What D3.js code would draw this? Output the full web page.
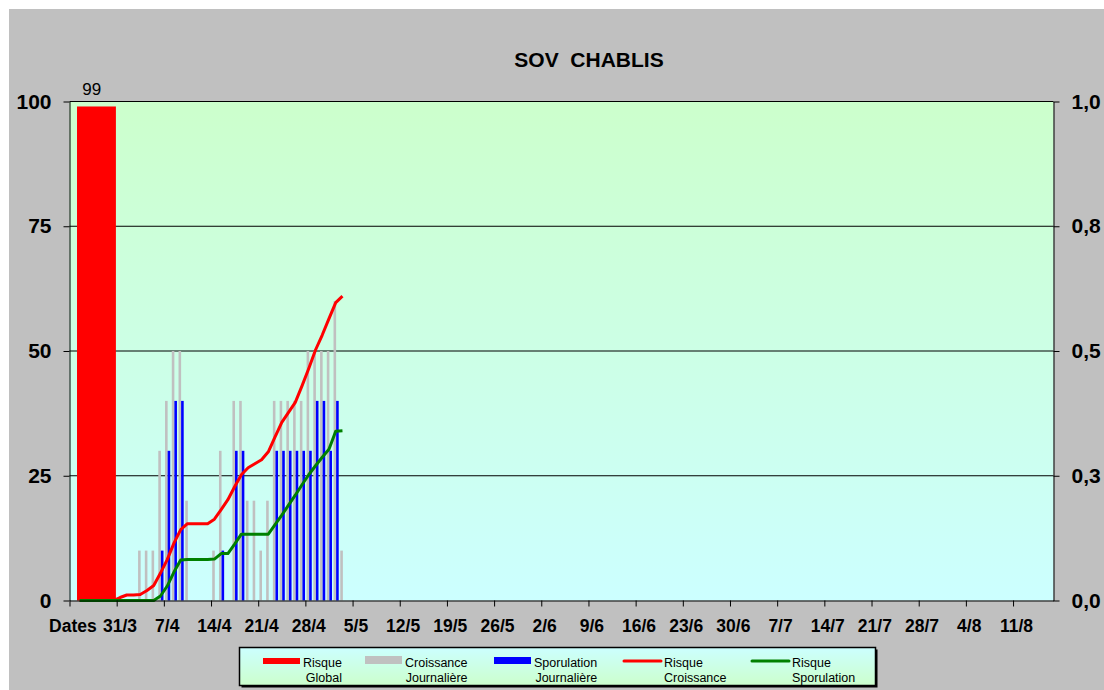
<!DOCTYPE html>
<html>
<head>
<meta charset="utf-8">
<script src="https://d3js.org/d3.v7.min.js"></script>
<style>
  body { margin: 0; background: #ffffff; }
  svg { display: block; font-family: "Liberation Sans", Arial, sans-serif; }
</style>
</head>
<body>
<script>
  // category 0 is the "Dates" header, then one category per day from 25/3
  var nbCategories = 146;
  var tickEvery = 7;
  var tickLabels = ["Dates", "31/3", "7/4", "14/4", "21/4", "28/4", "5/5", "12/5", "19/5", "26/5",
                    "2/6", "9/6", "16/6", "23/6", "30/6", "7/7", "14/7", "21/7", "28/7", "4/8", "11/8"];
  var leftTicks = [0, 25, 50, 75, 100];
  var rightTicks = [0, 0.25, 0.5, 0.75, 1];

  var risqueGlobal = 99;

  // daily series, starting at category 1 (25/3) up to category 40 (3/5)
  var firstCategory = 1;
  var croissance = [0, 0, 0, 0, 0, 0, 0, 0, 0, 10, 10, 10, 30, 40, 50, 50, 20, 0, 0, 0,
                    10, 30, 0, 40, 40, 20, 20, 10, 20, 40, 40, 40, 40, 40, 50, 50, 50, 50, 60, 10];
  var sporulation = [0, 0, 0, 0, 0, 0, 0, 0, 0, 0, 0, 0, 10, 30, 40, 40, 0, 0, 0, 0,
                     0, 10, 0, 30, 30, 0, 0, 0, 0, 30, 30, 30, 30, 30, 30, 40, 40, 30, 40, 0];
  var risqueCroissance = [0, 0, 0, 0, 0, 0, 0.006, 0.011, 0.011, 0.012, 0.02, 0.03, 0.055, 0.082, 0.115, 0.142, 0.154, 0.154, 0.154, 0.154,
                          0.163, 0.182, 0.202, 0.228, 0.252, 0.266, 0.274, 0.282, 0.298, 0.328, 0.357, 0.377, 0.397, 0.43, 0.465, 0.502, 0.532, 0.565, 0.597, 0.61];
  var risqueSporulation = [0, 0, 0, 0, 0, 0, 0, 0, 0, 0, 0, 0, 0.009, 0.029, 0.057, 0.081, 0.082, 0.082, 0.082, 0.082,
                           0.083, 0.094, 0.094, 0.113, 0.133, 0.133, 0.133, 0.133, 0.133, 0.152, 0.171, 0.191, 0.211, 0.232, 0.252, 0.27, 0.287, 0.303, 0.339, 0.34];

  var legendNames = [["Risque", "Global"], ["Croissance", "Journalière"], ["Sporulation", "Journalière"],
                     ["Risque", "Croissance"], ["Risque", "Sporulation"]];

  var colRed = "#ff0000", colGrey = "#c0c0c0", colBlue = "#0000ff", colGreen = "#008000";

  var W = 1104, H = 690;
  var plot = {left: 69.5, right: 1053.5, top: 101.5, bottom: 600.5};

  var svg = d3.select("body").append("svg").attr("width", W).attr("height", H);

  var defs = svg.append("defs");
  var g1 = defs.append("linearGradient").attr("id", "plotBg").attr("x1", 0).attr("y1", 0).attr("x2", 0).attr("y2", 1);
  g1.append("stop").attr("offset", "0%").attr("stop-color", "#ccffcc");
  g1.append("stop").attr("offset", "100%").attr("stop-color", "#ccffff");
  var g2 = defs.append("linearGradient").attr("id", "legBg").attr("x1", 0).attr("y1", 0).attr("x2", 0).attr("y2", 1);
  g2.append("stop").attr("offset", "0%").attr("stop-color", "#ccffff");
  g2.append("stop").attr("offset", "100%").attr("stop-color", "#ccffcc");

  // chart area
  svg.append("rect").attr("x", 9).attr("y", 9).attr("width", W - 9).attr("height", H - 9).attr("fill", "#c0c0c0");
  svg.append("rect")
    .attr("x", plot.left).attr("y", plot.top)
    .attr("width", plot.right - plot.left).attr("height", plot.bottom - plot.top)
    .attr("fill", "url(#plotBg)");

  var x = d3.scaleBand().domain(d3.range(nbCategories)).range([plot.left, plot.right]).padding(0);
  var xEdge = d3.scaleLinear().domain([0, nbCategories]).range([plot.left, plot.right]);
  var y = d3.scaleLinear().domain([0, 100]).range([plot.bottom, plot.top]);
  var yR = d3.scaleLinear().domain([0, 1]).range([plot.bottom, plot.top]);
  var xSub = d3.scaleBand().domain(["croissance", "sporulation"]).range([0, x.bandwidth()])
    .paddingInner(0).paddingOuter(0.3).align(0.76);

  // gridlines
  svg.append("g").selectAll("line").data(leftTicks.slice(1)).enter().append("line")
    .attr("x1", plot.left).attr("x2", plot.right)
    .attr("y1", function(d) { return y(d); }).attr("y2", function(d) { return y(d); })
    .attr("stroke", "#000").attr("stroke-width", 1);

  // risque global: one wide bar over the days before 31/3
  var xGlobal = d3.scaleBand().domain(["Risque Global"])
    .range([xEdge(firstCategory), xEdge(tickEvery)]).paddingOuter(0.02);
  svg.append("rect")
    .attr("x", xGlobal("Risque Global")).attr("width", xGlobal.bandwidth())
    .attr("y", y(risqueGlobal)).attr("height", y(0) - y(risqueGlobal))
    .attr("fill", colRed);
  svg.append("text")
    .attr("x", xGlobal("Risque Global") + xGlobal.bandwidth() * 0.38).attr("y", y(risqueGlobal) - 11.5)
    .attr("text-anchor", "middle").style("font-size", "17px").text(risqueGlobal);

  function drawBars(values, key, color) {
    svg.append("g").selectAll("rect").data(values).enter().append("rect")
      .attr("x", function(d, i) { return x(i + firstCategory) + xSub(key); })
      .attr("width", xSub.bandwidth())
      .attr("y", function(d) { return y(d); })
      .attr("height", function(d) { return y(0) - y(d); })
      .attr("fill", color);
  }
  drawBars(croissance, "croissance", colGrey);
  drawBars(sporulation, "sporulation", colBlue);

  function drawLine(values, color) {
    var line = d3.line()
      .x(function(d, i) { return x(i + firstCategory) + x.bandwidth() / 2; })
      .y(function(d) { return yR(d); });
    svg.append("path").datum(values)
      .attr("d", line).attr("fill", "none")
      .attr("stroke", color).attr("stroke-width", 3).attr("stroke-linejoin", "round");
  }
  drawLine(risqueCroissance, colRed);
  drawLine(risqueSporulation, colGreen);

  // axes
  var axisLeft = svg.append("g").attr("transform", "translate(" + plot.left + ",0)")
    .call(d3.axisLeft(y).tickValues(leftTicks).tickSize(6).tickPadding(12).tickSizeOuter(0));
  var axisRight = svg.append("g").attr("transform", "translate(" + plot.right + ",0)")
    .call(d3.axisRight(yR).tickValues(rightTicks).tickSize(6).tickPadding(12).tickSizeOuter(0)
      .tickFormat(function(d) { return d3.format(".1f")(d).replace(".", ","); }));
  var axisTicks = svg.append("g").attr("transform", "translate(0," + plot.bottom + ")")
    .call(d3.axisBottom(xEdge).tickValues(d3.range(0, nbCategories, tickEvery)).tickSize(6).tickSizeOuter(0)
      .tickFormat(""));
  var axisLabels = svg.append("g").attr("transform", "translate(0," + plot.bottom + ")")
    .call(d3.axisBottom(x).tickValues(d3.range(0, tickLabels.length * tickEvery, tickEvery)).tickSize(0).tickPadding(19)
      .tickFormat(function(d) { return tickLabels[d / tickEvery]; }));
  axisLabels.select(".domain").remove();

  [axisLeft, axisRight, axisTicks].forEach(function(a) {
    a.selectAll("line, path").attr("stroke", "#000").attr("stroke-width", 1);
  });
  axisLeft.selectAll("text").style("font-size", "21px").style("font-weight", "bold").attr("fill", "#000");
  axisRight.selectAll("text").style("font-size", "21px").style("font-weight", "bold").attr("fill", "#000");
  axisLabels.selectAll("text").style("font-size", "17.5px").style("font-weight", "bold").attr("fill", "#000");
  [axisLeft, axisRight, axisTicks, axisLabels].forEach(function(a) { a.attr("font-family", null); });

  // title
  svg.append("text").attr("x", 589).attr("y", 67).attr("text-anchor", "middle")
    .style("font-size", "21px").style("font-weight", "bold").style("white-space", "pre")
    .text("SOV  CHABLIS");

  // legend
  var leg = {x: 239.5, y: 647.5, w: 636, h: 38};
  svg.append("rect").attr("x", leg.x + 2).attr("y", leg.y + 2).attr("width", leg.w).attr("height", leg.h).attr("fill", "#000");
  svg.append("rect").attr("x", leg.x).attr("y", leg.y).attr("width", leg.w).attr("height", leg.h)
    .attr("fill", "url(#legBg)").attr("stroke", "#000").attr("stroke-width", 1.5);

  var legendX = [263, 365, 494, 624, 752];
  var legendKind = ["bar", "bar", "bar", "line", "line"];
  var legendColor = [colRed, colGrey, colBlue, colRed, colGreen];
  var legendSwatchTop = [658, 656, 657, 0, 0];

  legendNames.forEach(function(names, i) {
    var gx = legendX[i];
    if (legendKind[i] === "bar") {
      svg.append("rect").attr("x", gx).attr("y", legendSwatchTop[i]).attr("width", 37).attr("height", 664 - legendSwatchTop[i])
        .attr("fill", legendColor[i]);
    } else {
      svg.append("line").attr("x1", gx).attr("x2", gx + 37).attr("y1", 661).attr("y2", 661)
        .attr("stroke", legendColor[i]).attr("stroke-width", 3).attr("stroke-linecap", "round");
    }
    var t1 = svg.append("text").attr("x", gx + 40).attr("y", 667).style("font-size", "12.5px").text(names[0]);
    var t2 = svg.append("text").attr("y", 682).style("font-size", "12.5px").text(names[1]);
    if (legendKind[i] === "bar") {
      t2.attr("x", gx + 40 + t1.node().getComputedTextLength()).attr("text-anchor", "end");
    } else {
      t2.attr("x", gx + 40);
    }
  });
</script>
</body>
</html>
